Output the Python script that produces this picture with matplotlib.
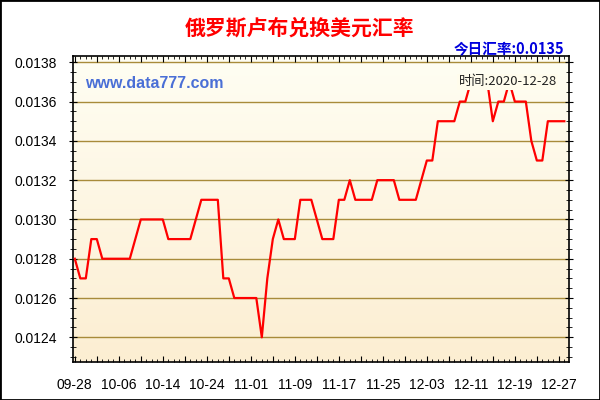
import matplotlib as mpl
import matplotlib.pyplot as plt
import numpy as np
from matplotlib.colors import LinearSegmentedColormap

# ruble -> usd daily rate, 09-28 .. 12-28
rates = [0.0128, 0.0127, 0.0127, 0.0129, 0.0129,
         0.0128, 0.0128, 0.0128, 0.0128, 0.0128, 0.0128,
         0.0129, 0.0130, 0.0130, 0.0130, 0.0130, 0.0130,
         0.0129, 0.0129, 0.0129, 0.0129, 0.0129, 0.0130,
         0.0131, 0.0131, 0.0131, 0.0131, 0.0127, 0.0127,
         0.0126, 0.0126, 0.0126, 0.0126, 0.0126, 0.0124,
         0.0127, 0.0129, 0.0130, 0.0129, 0.0129, 0.0129,
         0.0131, 0.0131, 0.0131, 0.0130, 0.0129, 0.0129, 0.0129,
         0.0131, 0.0131, 0.0132, 0.0131, 0.0131, 0.0131, 0.0131,
         0.0132, 0.0132, 0.0132, 0.0132, 0.0131, 0.0131, 0.0131, 0.0131,
         0.0132, 0.0133, 0.0133, 0.0135, 0.0135, 0.0135, 0.0135,
         0.0136, 0.0136, 0.0137, 0.0137, 0.0137, 0.0137,
         0.0135, 0.0136, 0.0136, 0.0137, 0.0136, 0.0136, 0.0136,
         0.0134, 0.0133, 0.0133, 0.0135, 0.0135, 0.0135, 0.0135]
dateLabels = ['09-28', '10-06', '10-14', '10-24', '11-01', '11-09',
              '11-17', '11-25', '12-03', '12-11', '12-19', '12-27']
yTicks = [0.0124, 0.0126, 0.0128, 0.0130, 0.0132, 0.0134, 0.0136, 0.0138]
title = '俄罗斯卢布兑换美元汇率'
todayRate = '今日汇率:0.0135'
lastDate = '时间:2020-12-28'

cjk = ['Noto Sans CJK SC', 'DejaVu Sans']
mpl.rcParams['font.family'] = ['Liberation Sans', 'DejaVu Sans']

fig = plt.figure(figsize=(6, 4), dpi=100, facecolor='white')
ax = fig.add_axes([0.1222, 0.0958, 0.8266, 0.7642])

xmin, xmax = -0.27, 89.9
ymin, ymax = 0.012276, 0.013832
ax.set(xlim=(xmin, xmax), ylim=(ymin, ymax))

# cream gradient background
bgmap = LinearSegmentedColormap.from_list('bg', ['#FCEED2', '#FFFEF3'])
ax.imshow(np.linspace(0, 1, 256).reshape(-1, 1), cmap=bgmap, origin='lower',
          extent=(xmin, xmax, ymin, ymax), aspect='auto', zorder=0)

for v in yTicks:
    ax.axhline(v, color='#A88B3A', linewidth=1, zorder=1)

time = np.arange(len(rates))
ax.plot(time, rates, color='#FF0000', linewidth=1.6, zorder=3)

# ticks
ax.set_yticks(yTicks)
ax.yaxis.set_major_formatter(mpl.ticker.FormatStrFormatter('%.4f'))
ax.yaxis.set_minor_locator(mpl.ticker.MultipleLocator(0.00005))
majorX = np.arange(0, 90, 4)
ax.set_xticks(majorX)
ax.set_xticklabels([dateLabels[k // 8] if k % 8 == 0 else '' for k in majorX])
ax.xaxis.set_minor_locator(mpl.ticker.MultipleLocator(1))
ax.tick_params(axis='both', which='both', top=True, right=True, direction='in',
               color='black', labelsize=10)
ax.tick_params(axis='both', which='major', length=4)
ax.tick_params(axis='both', which='minor', length=2.5)
ax.tick_params(axis='y', which='major', direction='inout', length=6, pad=9)
ax.tick_params(axis='y', which='minor', direction='inout', length=4)
ax.tick_params(axis='x', which='major', pad=12)
for s in ax.spines.values():
    s.set_color('black')
    s.set_linewidth(1.2)

# texts
fig.text(0.5, 1 - 28 / 400, title, ha='center', va='center', fontsize=15,
         fontweight='bold', color='#FF0000', family=cjk)
fig.text(564 / 600, 1 - 49 / 400, todayRate, ha='right', va='center', fontsize=10.5,
         fontweight='bold', color='#0000DD', family=cjk)
fig.text(85 / 600, 1 - 84 / 400, 'www.data777.com', ha='left', va='center',
         fontsize=11.5, fontweight='bold', color='#4A6FD6')
fig.text(557 / 600, 1 - 82 / 400, lastDate, ha='right', va='center', fontsize=9.5,
         color='#222222', family=cjk, zorder=5,
         bbox=dict(facecolor='#FFFCEC', edgecolor='none', pad=1))

# outer frame
fig.patches.append(plt.Rectangle((0, 0), 1, 1, transform=fig.transFigure,
                                 fill=False, edgecolor='black', linewidth=2))

fig.savefig('out.png', dpi=100)
